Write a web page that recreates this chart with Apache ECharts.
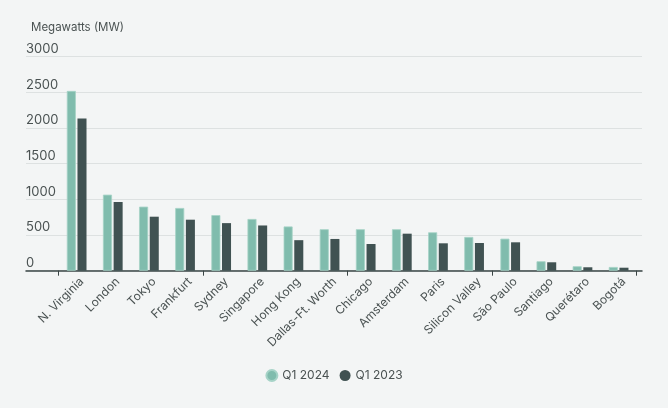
<!DOCTYPE html>
<html><head><meta charset="utf-8">
<script src="https://cdn.jsdelivr.net/npm/echarts@6/dist/echarts.min.js"></script>
<style>html,body{margin:0;padding:0;background:#f3f5f5;}#c{width:668px;height:408px;}</style>
</head><body><div id="c"></div>
<script>
const categories = ["N. Virginia","London","Tokyo","Frankfurt","Sydney","Singapore","Hong Kong","Dallas-Ft. Worth","Chicago","Amsterdam","Paris","Silicon Valley","São Paulo","Santiago","Querétaro","Bogotá"];
const q12024 = [2520,1066,898,879,779,725,620,581,581,581,538,473,449,132,62,52];
const q12023 = [2132,963,757,715,667,634,428,445,374,519,384,388,398,118,48,42];
const yTicks = [0,500,1000,1500,2000,2500,3000];
const seriesNames = ["Q1 2024","Q1 2023"];
const colors = ["#80bcad","#405252"];
const font = "Inter, 'Noto Sans', sans-serif";

const chart = echarts.init(document.getElementById('c'), null, {renderer:'canvas'});
chart.setOption({
  backgroundColor:'#f3f5f5',
  textStyle:{fontFamily:font},
  title:{text:'Megawatts (MW)', left:26, top:17, textStyle:{fontFamily:font, fontSize:11.5, fontWeight:'normal', color:'#4a5252'}},
  legend:{data:seriesNames, bottom:21, left:'center', icon:'circle', itemWidth:11, itemHeight:11, itemGap:10,
    textStyle:{fontFamily:font, fontSize:12, color:'#4a5252'}},
  grid:[
    {left:26, right:26, top:56.7, bottom:137.3},
    {left:58.6, right:31.3, top:56.7, bottom:137.3},
    {left:63.6, right:26.3, top:56.7, bottom:137.3}
  ],
  xAxis:[
    {gridIndex:0, type:'category', data:categories, axisLine:{show:true, lineStyle:{color:'#3a4545', width:1.5}}, axisTick:{show:false}, axisLabel:{show:false}},
    {gridIndex:1, type:'category', data:categories, axisLine:{show:false}, axisTick:{show:true, length:5, lineStyle:{color:'#3a4545'}}, axisLabel:{show:false}},
    {gridIndex:2, type:'category', data:categories, axisLine:{show:false}, axisTick:{show:false},
      axisLabel:{rotate:45, margin:9, fontFamily:font, fontSize:12, color:'#4a5252', interval:0}}
  ],
  yAxis:[
    {gridIndex:0, type:'value', min:yTicks[0], max:yTicks[yTicks.length-1], interval:500,
      axisLine:{show:false}, axisTick:{show:false},
      splitLine:{lineStyle:{color:'#dde1e1', width:1}},
      axisLabel:{inside:true, margin:0, align:'left', verticalAlign:'bottom', padding:[0,0,1,0], fontFamily:font, fontSize:13, color:'#4a5252',
        formatter:function(v){return String(v);}}},
    {gridIndex:1, type:'value', min:yTicks[0], max:yTicks[yTicks.length-1], interval:500, show:false},
    {gridIndex:2, type:'value', min:yTicks[0], max:yTicks[yTicks.length-1], interval:500, show:false}
  ],
  series:[
    {name:seriesNames[0], type:'bar', xAxisIndex:1, yAxisIndex:1, data:q12024, barWidth:'25%', barGap:'18%',
      itemStyle:{color:colors[0], borderColor:'#a6d3c7', borderWidth:0.8}},
    {name:seriesNames[1], type:'bar', xAxisIndex:1, yAxisIndex:1, data:q12023, barWidth:'25%', barGap:'18%',
      itemStyle:{color:colors[1]}}
  ]
});
</script></body></html>
